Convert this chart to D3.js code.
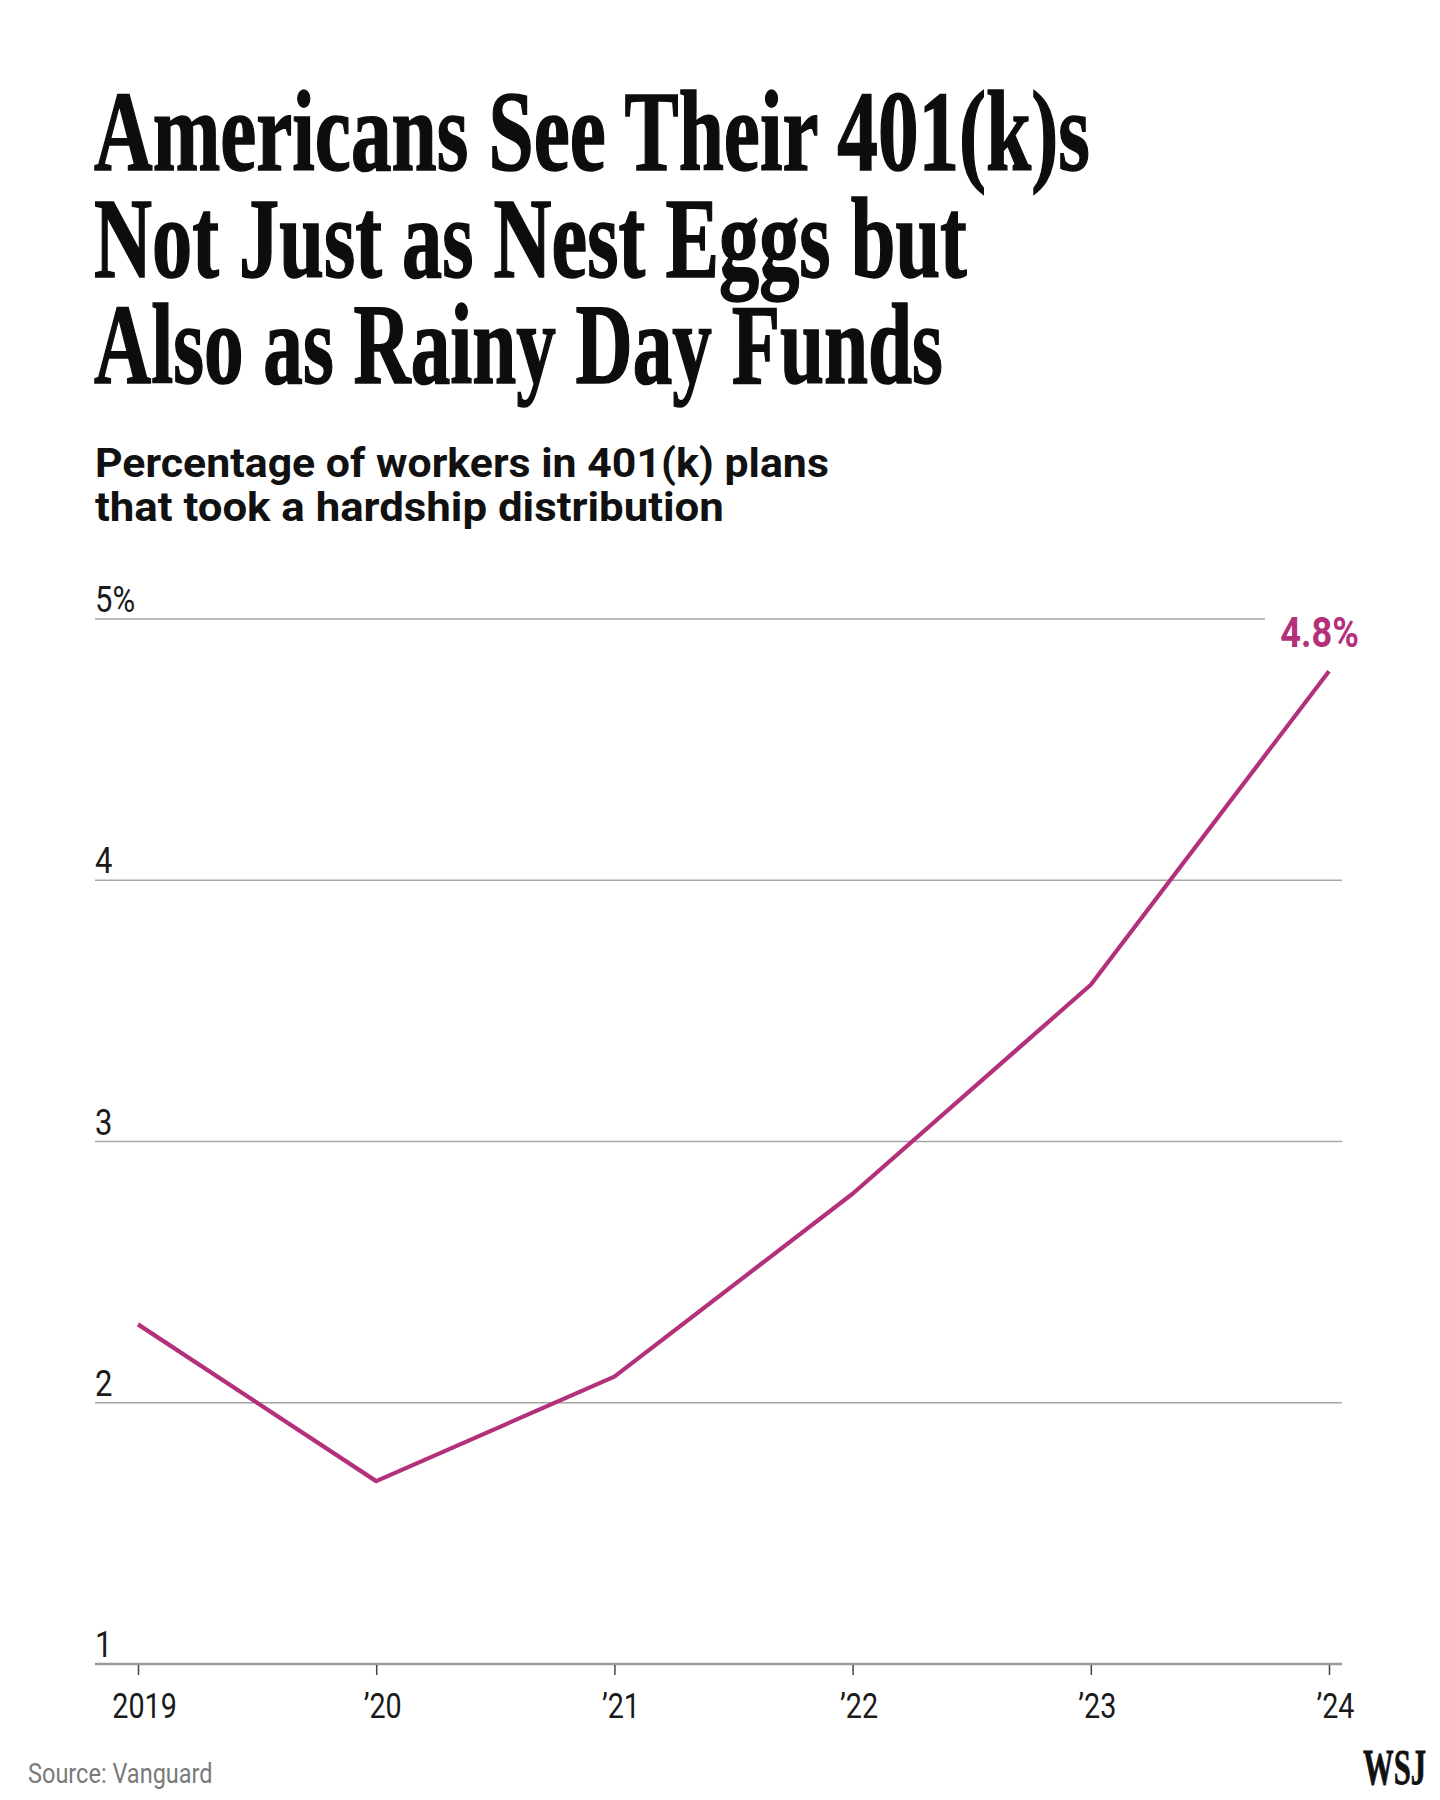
<!DOCTYPE html>
<html>
<head>
<meta charset="utf-8">
<script src="https://cdn.jsdelivr.net/npm/d3@7"></script>
<style>
  html, body { margin: 0; padding: 0; background: #fff; }
  svg { display: block; }
</style>
</head>
<body>
<svg id="chart" width="1440" height="1800"></svg>
<script>
// ---- data ----
const titleLines = ["Americans See Their 401(k)s", "Not Just as Nest Eggs but", "Also as Rainy Day Funds"];
const subtitleLines = ["Percentage of workers in 401(k) plans", "that took a hardship distribution"];
const years = [2019, 2020, 2021, 2022, 2023, 2024];
const yearLabels = ["2019", "\u201920", "\u201921", "\u201922", "\u201923", "\u201924"];
const hardshipPct = [2.3, 1.7, 2.1, 2.8, 3.6, 4.8];
const yTicks = [1, 2, 3, 4, 5];
const yTickLabels = ["1", "2", "3", "4", "5%"];
const endLabel = "4.8%";
const sourceText = "Source: Vanguard";
const logoText = "WSJ";

// ---- layout ----
const left = 95, right = 1342;
const magenta = "#b3317b";
const svg = d3.select("#chart");

const x = d3.scaleLinear().domain([2019, 2024]).range([138, 1329]);
const y = d3.scaleLinear().domain([1, 5]).range([1664, 619]);

// scale a text horizontally (via transform) so it spans a given width
function fitTo(sel, px, py, width) {
  sel.each(function(d, i) {
    const t = d3.select(this).attr("x", 0).attr("y", 0);
    const w = this.getComputedTextLength();
    const X = typeof px === "function" ? px(d, i) : px;
    const Y = typeof py === "function" ? py(d, i) : py;
    const W = typeof width === "function" ? width(d, i) : width;
    t.attr("transform", `translate(${X},${Y}) scale(${W / w},1)`);
  });
}

// title
const titleWidths = [996, 873, 849];
svg.append("g").selectAll("text").data(titleLines).join("text")
  .attr("font-family", "'Liberation Serif', 'Times New Roman', serif")
  .attr("font-weight", 700)
  .attr("font-size", 114)
  .attr("fill", "#0d0d0d")
  .attr("stroke", "#0d0d0d")
  .attr("stroke-width", 1.6)
  .text(d => d)
  .call(fitTo, 94, (d, i) => 170 + i * 106.5, (d, i) => titleWidths[i]);

// subtitle
const subWidths = [734, 629];
svg.append("g").selectAll("text").data(subtitleLines).join("text")
  .attr("font-family", "Roboto, 'Noto Sans', sans-serif")
  .attr("font-weight", 700)
  .attr("font-size", 40)
  .attr("fill", "#111")
  .text(d => d)
  .call(fitTo, 95, (d, i) => 477 + i * 44, (d, i) => subWidths[i]);

// gridlines
svg.append("g").selectAll("line").data(yTicks.filter(t => t > 1)).join("line")
  .attr("x1", left)
  .attr("x2", d => d === 5 ? 1265 : right)
  .attr("y1", d => y(d)).attr("y2", d => y(d))
  .attr("stroke", "#a6a6a6")
  .attr("stroke-width", 1.6);

// baseline axis
svg.append("line")
  .attr("x1", left).attr("x2", right)
  .attr("y1", y(1)).attr("y2", y(1))
  .attr("stroke", "#9a9a9a").attr("stroke-width", 2.4);

const condense = (sel, f) => sel.each(function() {
  const w = this.getComputedTextLength();
  d3.select(this).attr("textLength", w * f).attr("lengthAdjust", "spacingAndGlyphs");
});

// y tick labels
svg.append("g").selectAll("text").data(yTicks).join("text")
  .attr("x", left)
  .attr("y", d => y(d) - 7)
  .attr("font-family", "Roboto, 'Noto Sans', sans-serif")
  .attr("font-size", 36)
  .attr("fill", "#1a1a1a")
  .text((d, i) => yTickLabels[i])
  .call(condense, 0.86);

// x axis ticks and labels
const xAxis = svg.append("g").attr("transform", `translate(0,${y(1)})`)
  .call(d3.axisBottom(x).tickValues(years).tickSize(11).tickPadding(8)
    .tickFormat((d, i) => yearLabels[i]));
xAxis.select(".domain").remove();
xAxis.selectAll(".tick line").attr("stroke", "#444").attr("stroke-width", 1.5).attr("y1", 1);
xAxis.selectAll(".tick text")
  .attr("font-family", "Roboto, 'Noto Sans', sans-serif")
  .attr("font-size", 35)
  .attr("fill", "#1a1a1a")
  .attr("dy", null)
  .attr("y", 54)
  .attr("x", 6)
  .call(condense, 0.82);

// line
const line = d3.line().x((d, i) => x(years[i])).y(d => y(d));
svg.append("path")
  .datum(hardshipPct)
  .attr("d", line)
  .attr("fill", "none")
  .attr("stroke", magenta)
  .attr("stroke-width", 4.2)
  .attr("stroke-linejoin", "round");

// end label
svg.append("text")
  .attr("x", x(years[years.length - 1]) + 30)
  .attr("y", y(hardshipPct[hardshipPct.length - 1]) - 24)
  .attr("text-anchor", "end")
  .attr("font-family", "Roboto, 'Noto Sans', sans-serif")
  .attr("font-weight", 700)
  .attr("font-size", 42)
  .attr("fill", magenta)
  .text(endLabel)
  .call(condense, 0.86);

// source
svg.append("text")
  .attr("x", 28).attr("y", 1783)
  .attr("font-family", "Roboto, 'Noto Sans', sans-serif")
  .attr("font-size", 28)
  .attr("fill", "#7a7a7a")
  .text(sourceText)
  .call(condense, 0.84);

// logo
svg.append("text")
  .attr("font-family", "'Liberation Serif', 'Times New Roman', serif")
  .attr("font-weight", 700)
  .attr("font-size", 50)
  .attr("fill", "#111")
  .attr("stroke", "#111")
  .attr("stroke-width", 0.8)
  .text(logoText)
  .call(fitTo, 1363, 1784, 63);
</script>
</body>
</html>
